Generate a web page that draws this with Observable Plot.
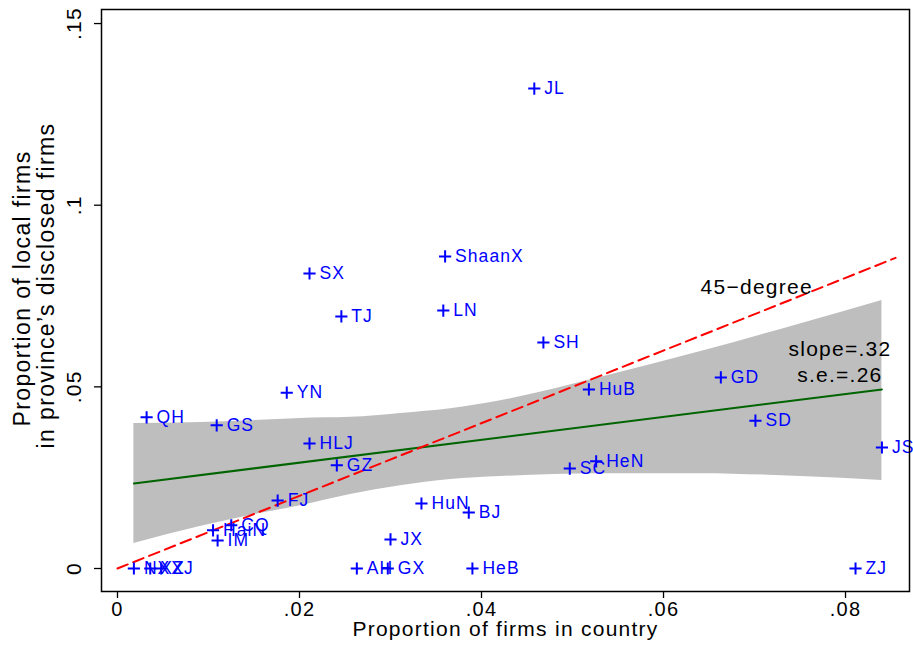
<!DOCTYPE html>
<html>
<head>
<meta charset="utf-8">
<script src="https://cdn.jsdelivr.net/npm/d3@7"></script>
<script src="https://cdn.jsdelivr.net/npm/@observablehq/plot@0.6"></script>
<style>
  html, body { margin: 0; padding: 0; background: #fff; }
  svg text { letter-spacing: 0.06em; }
</style>
</head>
<body>
<div id="chart"></div>
<script>
// Province abbreviations
const provinces = ["NX","XZ","XJ","QH","GS","HaiN","CQ","IM","FJ","YN","SX","HLJ","GZ","TJ","AH","GX","JX","HuN","LN","ShaanX","BJ","HeB","JL","SH","SC","HuB","HeN","GD","SD","ZJ","JS"];
// Proportion of firms in country (x)
const countryShare = [0.0018,0.0036,0.0048,0.0032,0.0109,0.0105,0.0125,0.0110,0.0176,0.0186,0.0211,0.0211,0.0241,0.0246,0.0263,0.0297,0.0300,0.0334,0.0358,0.0360,0.0386,0.0390,0.0458,0.0468,0.0497,0.0518,0.0526,0.0663,0.0701,0.0811,0.0840];
// Proportion of local firms in province's disclosed firms (y)
const localShare = [0,0,0,0.0416,0.0394,0.0105,0.0119,0.0077,0.0187,0.0484,0.0812,0.0344,0.0284,0.0694,0,0,0.0080,0.0179,0.0710,0.0859,0.0154,0,0.1321,0.0622,0.0275,0.0493,0.0295,0.0526,0.0407,0,0.0333];

// Linear fit and its confidence band
const fitX = [0.0018, 0.0840];
const fitY = [0.0234, 0.0493];
const bandX  = [0.0018,0.0092,0.0146,0.0201,0.0256,0.0311,0.0366,0.0421,0.0530,0.0641,0.0751,0.0840];
const bandHi = [0.0399,0.0402,0.0407,0.0413,0.0416,0.0427,0.0440,0.0462,0.0526,0.0597,0.0674,0.0738];
const bandLo = [0.0069,0.0116,0.0146,0.0173,0.0204,0.0228,0.0245,0.0253,0.0261,0.0261,0.0253,0.0242];

// 45-degree reference line extent (y = x)
const diagX = [0, 0.0855];

// Ticks
const xTicks = [0, 0.02, 0.04, 0.06, 0.08];
const yTicks = [0, 0.05, 0.10, 0.15];

// Annotations
const diagLabel = "45\u2212degree";
const diagLabelX = 0.06407;
const diagLabelY = 0.07754;
const statLabels = ["slope=.32", "s.e.=.26"];
const statLabelX = [0.08505, 0.08407];
const statLabelY = [0.06047, 0.05332];

const points = provinces.map((name, i) => ({name, x: countryShare[i], y: localShare[i]}));
const band = bandX.map((x, i) => ({x, lo: bandLo[i], hi: bandHi[i]}));
const fit = fitX.map((x, i) => ({x, y: fitY[i]}));
const diag = diagX.map(x => ({x, y: x}));
const stats = statLabels.map((t, i) => ({t, x: statLabelX[i], y: statLabelY[i]}));

const fmt = d => d === 0 ? "0" : d3.format(".2~f")(d).replace(/^0/, "");
const FONT = "'Liberation Sans', Arial, Helvetica, sans-serif";

const chart = Plot.plot({
  width: 913,
  height: 650,
  marginLeft: 101,
  marginRight: 4,
  marginTop: 9,
  marginBottom: 59,
  style: {fontFamily: FONT, fontSize: "20px", background: "#fff", color: "#000"},
  x: {domain: [-0.001758, 0.08703]},
  y: {domain: [-0.00633, 0.15387]},
  marks: [
    Plot.areaY(band, {x: "x", y1: "lo", y2: "hi", fill: "#bebebe", curve: "monotone-x"}),
    Plot.line(fit, {x: "x", y: "y", stroke: "#006400", strokeWidth: 2}),
    Plot.line(diag, {x: "x", y: "y", stroke: "#ff0000", strokeWidth: 2, strokeDasharray: "11,6"}),
    Plot.dot(points, {x: "x", y: "y", symbol: "plus", r: 4, stroke: "#0000ff", strokeWidth: 2}),
    Plot.text(points, {x: "x", y: "y", text: "name", dx: 10, textAnchor: "start", fill: "#0000ff", fontSize: 17.5}),
    Plot.text([diagLabel], {x: () => diagLabelX, y: () => diagLabelY, text: d => d, textAnchor: "start", fill: "#000", fontSize: 21}),
    Plot.text(stats, {x: "x", y: "y", text: "t", textAnchor: "end", fill: "#000", fontSize: 21}),
    Plot.frame({stroke: "#000", strokeWidth: 1.5}),
    Plot.axisX({ticks: xTicks, tickFormat: fmt, tickSize: 7, tickPadding: 3, strokeWidth: 1.3, label: null, fontSize: 20}),
    Plot.axisY({ticks: yTicks, tickFormat: fmt, tickSize: 7, tickPadding: 14, tickRotate: -90, strokeWidth: 1.3, label: null, fontSize: 21}),
    Plot.text(["Proportion of firms in country"], {frameAnchor: "bottom", textAnchor: "middle", dy: 44, fontSize: 21}),
    Plot.text(["Proportion of local firms"], {frameAnchor: "left", textAnchor: "middle", dx: -79, dy: -12, rotate: -90, fontSize: 23}),
    Plot.text(["in province\u2019s disclosed firms"], {frameAnchor: "left", textAnchor: "middle", dx: -55, dy: -15, rotate: -90, fontSize: 23})
  ]
});

document.getElementById("chart").appendChild(chart);
</script>
</body>
</html>
